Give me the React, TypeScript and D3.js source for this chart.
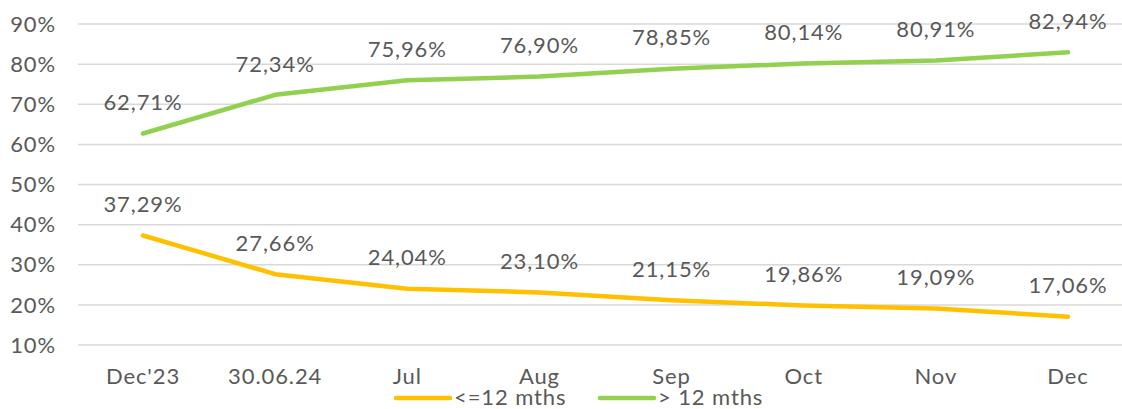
import React from "react";
import * as d3 from "d3";

const categories = ["Dec'23", "30.06.24", "Jul", "Aug", "Sep", "Oct", "Nov", "Dec"];
const shortTerm = [37.29, 27.66, 24.04, 23.1, 21.15, 19.86, 19.09, 17.06];
const longTerm = [62.71, 72.34, 75.96, 76.9, 78.85, 80.14, 80.91, 82.94];
const yTicks = [10, 20, 30, 40, 50, 60, 70, 80, 90];
const seriesNames = ["<=12 mths", "> 12 mths"];
const colors = ["#FFC000", "#92D050"];

const W = 1122;
const H = 409;
const font = "'Century Gothic', 'URW Gothic', Lato, 'DejaVu Sans', sans-serif";
const textColor = "#595959";
const fs = 22;
const ls = 0.9;

export default function App() {
  const y = d3.scaleLinear().domain([10, 90]).range([345, 24]);
  const x = d3.scalePoint<string>().domain(categories).range([143, 1068]);
  const line = d3
    .line<number>()
    .x((_, i) => x(categories[i]) as number)
    .y((d) => y(d));
  const fmt = (v: number) => v.toFixed(2).replace(".", ",") + "%";
  const series = [shortTerm, longTerm];

  return (
    <svg width={W} height={H} style={{ position: "absolute", left: 0, top: 0, fontFamily: font }}>
      <rect width={W} height={H} fill="#fff" />
      {yTicks.map((t) => (
        <g key={t}>
          <line x1={78} x2={1122} y1={y(t)} y2={y(t)} stroke="#D9D9D9" strokeWidth={1.5} />
          <text x={56} y={y(t)} dy="0.35em" textAnchor="end" fontSize={fs} letterSpacing={ls} fill={textColor}>
            {t}%
          </text>
        </g>
      ))}
      {categories.map((c) => (
        <text key={c} x={x(c)} y={376} dy="0.35em" textAnchor="middle" fontSize={fs} letterSpacing={ls} fill={textColor}>
          {c}
        </text>
      ))}
      {series.map((s, si) => (
        <path key={si} d={line(s) || ""} fill="none" stroke={colors[si]} strokeWidth={4.5} strokeLinecap="round" strokeLinejoin="round" />
      ))}
      {series.map((s, si) =>
        s.map((v, i) => (
          <text key={si + "-" + i} x={x(categories[i])} y={y(v) - 31} dy="0.35em" textAnchor="middle" fontSize={fs} letterSpacing={ls} fill={textColor}>
            {fmt(v)}
          </text>
        ))
      )}
      {seriesNames.map((n, i) => {
        const lx = i === 0 ? 396 : 600;
        return (
          <g key={n}>
            <line x1={lx} x2={lx + 54} y1={398} y2={398} stroke={colors[i]} strokeWidth={4.5} strokeLinecap="round" />
            <text x={lx + 58} y={397} dy="0.35em" fontSize={fs} letterSpacing={ls} fill={textColor}>
              {n}
            </text>
          </g>
        );
      })}
    </svg>
  );
}
